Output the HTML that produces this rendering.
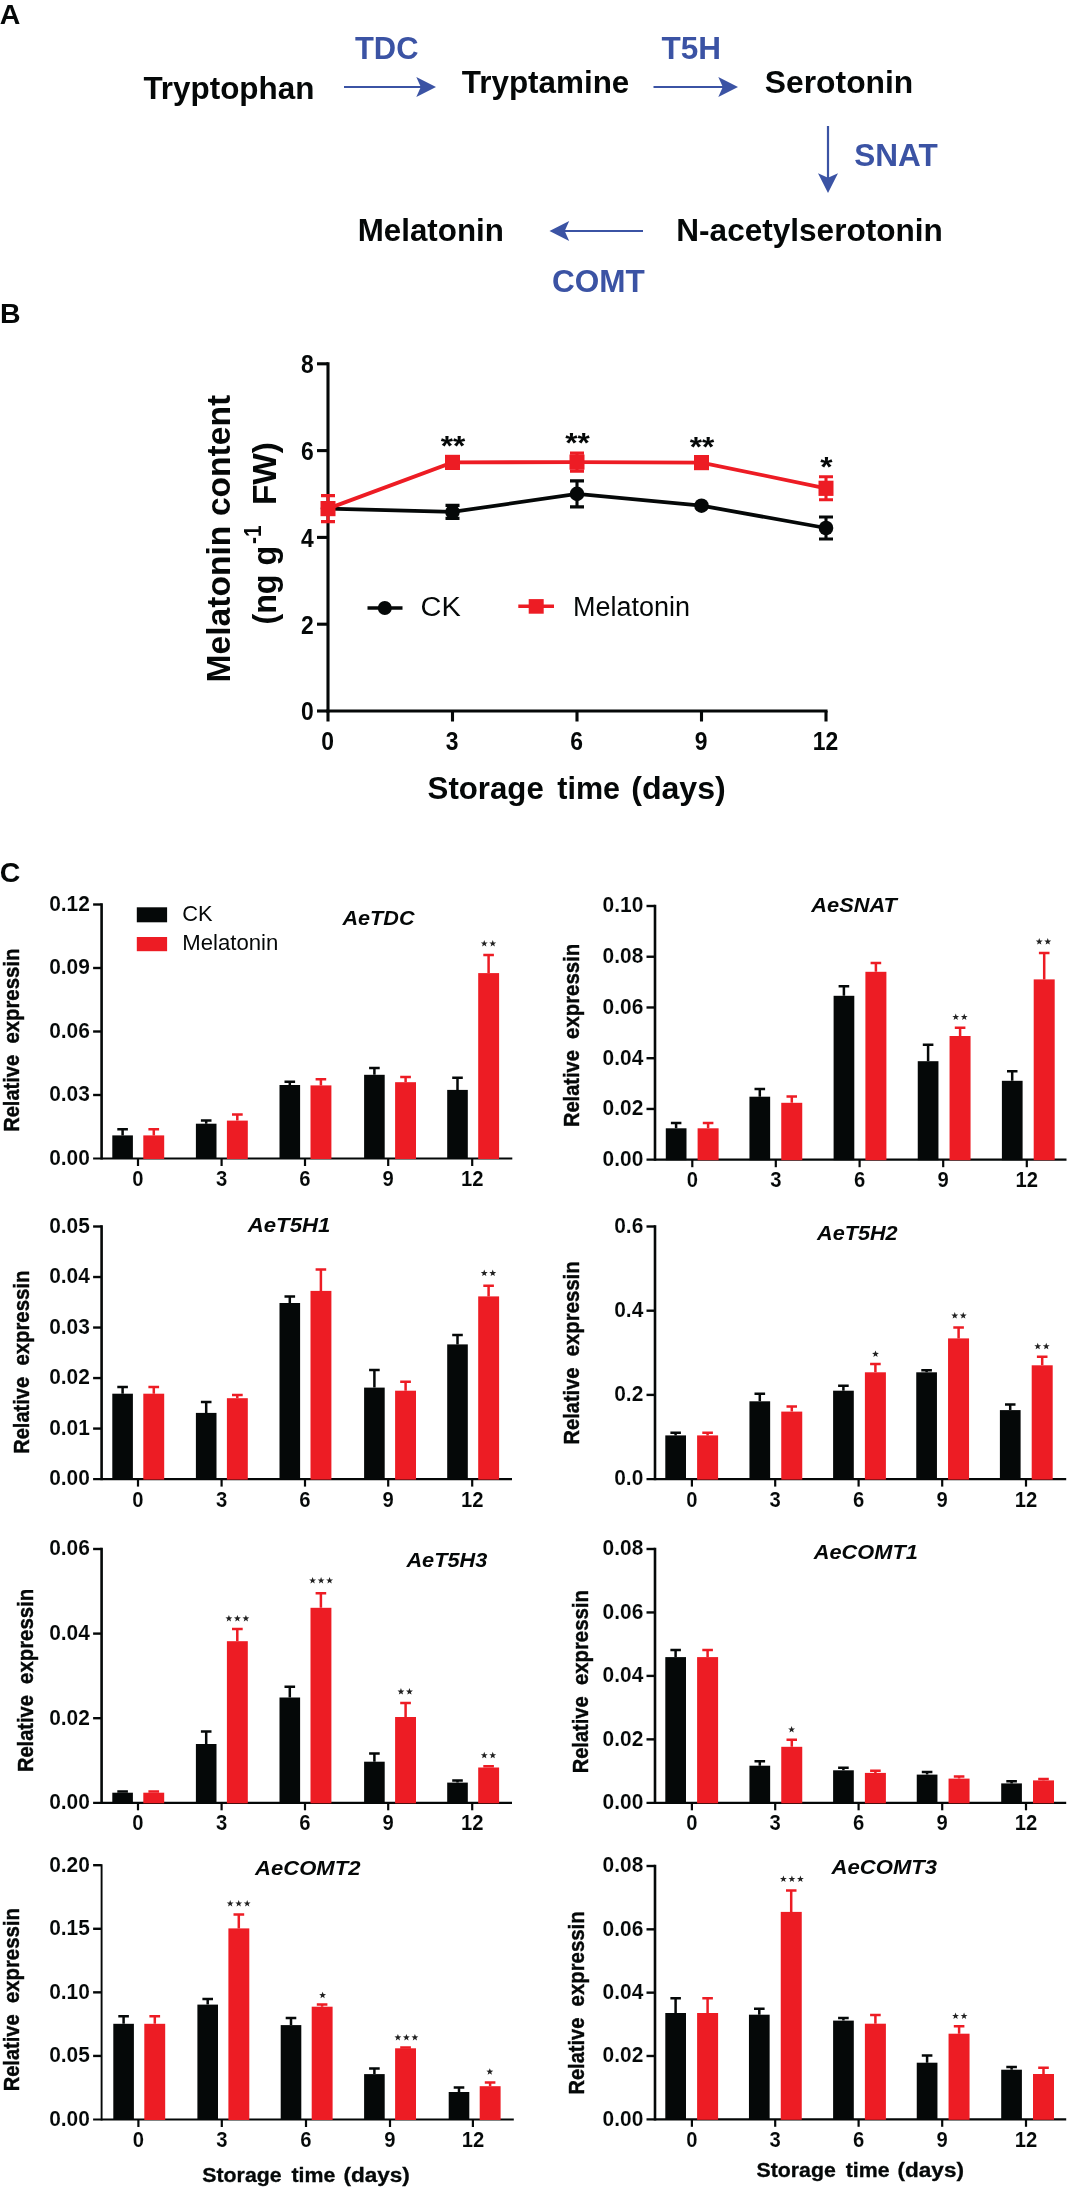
<!DOCTYPE html>
<html><head><meta charset="utf-8"><title>Figure</title>
<style>
html,body{margin:0;padding:0;background:#fff;}
body{width:1069px;height:2187px;overflow:hidden;font-family:"Liberation Sans",sans-serif;}
svg{display:block;filter:blur(0.45px);}
</style></head><body>
<svg width="1069" height="2187" viewBox="0 0 1069 2187">
<rect width="1069" height="2187" fill="#fff"/>
<text x="-0.20" y="24.00" font-family='"Liberation Sans", sans-serif' font-size="28.5" font-weight="bold" fill="#050808" text-anchor="start">A</text>
<text x="0.00" y="322.80" font-family='"Liberation Sans", sans-serif' font-size="28.5" font-weight="bold" fill="#050808" text-anchor="start">B</text>
<text x="-0.20" y="882.10" font-family='"Liberation Sans", sans-serif' font-size="28.5" font-weight="bold" fill="#050808" text-anchor="start">C</text>
<text x="143.40" y="98.80" font-family='"Liberation Sans", sans-serif' font-size="31.5" font-weight="bold" fill="#050808" text-anchor="start" textLength="171.00" lengthAdjust="spacingAndGlyphs">Tryptophan</text>
<text x="461.80" y="93.00" font-family='"Liberation Sans", sans-serif' font-size="31.5" font-weight="bold" fill="#050808" text-anchor="start" textLength="167.50" lengthAdjust="spacingAndGlyphs">Tryptamine</text>
<text x="764.80" y="93.00" font-family='"Liberation Sans", sans-serif' font-size="31.5" font-weight="bold" fill="#050808" text-anchor="start" textLength="148.50" lengthAdjust="spacingAndGlyphs">Serotonin</text>
<text x="676.30" y="240.90" font-family='"Liberation Sans", sans-serif' font-size="31.5" font-weight="bold" fill="#050808" text-anchor="start" textLength="266.50" lengthAdjust="spacingAndGlyphs">N-acetylserotonin</text>
<text x="357.70" y="240.90" font-family='"Liberation Sans", sans-serif' font-size="31.5" font-weight="bold" fill="#050808" text-anchor="start" textLength="146.20" lengthAdjust="spacingAndGlyphs">Melatonin</text>
<text x="355.00" y="59.20" font-family='"Liberation Sans", sans-serif' font-size="31.5" font-weight="bold" fill="#3b53a4" text-anchor="start" textLength="63.50" lengthAdjust="spacingAndGlyphs">TDC</text>
<text x="661.50" y="59.20" font-family='"Liberation Sans", sans-serif' font-size="31.5" font-weight="bold" fill="#3b53a4" text-anchor="start" textLength="59.50" lengthAdjust="spacingAndGlyphs">T5H</text>
<text x="854.20" y="166.30" font-family='"Liberation Sans", sans-serif' font-size="31.5" font-weight="bold" fill="#3b53a4" text-anchor="start" textLength="83.50" lengthAdjust="spacingAndGlyphs">SNAT</text>
<text x="552.00" y="291.50" font-family='"Liberation Sans", sans-serif' font-size="31.5" font-weight="bold" fill="#3b53a4" text-anchor="start" textLength="92.80" lengthAdjust="spacingAndGlyphs">COMT</text>
<line x1="344" y1="87" x2="422" y2="87" stroke="#3b53a4" stroke-width="2.2"/>
<path d="M436,87 L416.3,77 L420.8,87 L416.3,97 Z" fill="#3b53a4"/>
<line x1="653.5" y1="87" x2="724" y2="87" stroke="#3b53a4" stroke-width="2.2"/>
<path d="M738,87 L718.3,77 L722.8,87 L718.3,97 Z" fill="#3b53a4"/>
<line x1="828" y1="126" x2="828" y2="179" stroke="#3b53a4" stroke-width="2.2"/>
<path d="M828,193 L818,173.3 L828,177.8 L838,173.3 Z" fill="#3b53a4"/>
<line x1="643" y1="231" x2="563.5" y2="231" stroke="#3b53a4" stroke-width="2.2"/>
<path d="M549.5,231 L569.2,221 L564.7,231 L569.2,241 Z" fill="#3b53a4"/>
<line x1="328" y1="362.25" x2="328" y2="712.55" stroke="#050808" stroke-width="3.1"/>
<line x1="326.45" y1="711" x2="827.55" y2="711" stroke="#050808" stroke-width="3.1"/>
<line x1="317" y1="711.0" x2="328" y2="711.0" stroke="#050808" stroke-width="3.1"/>
<text transform="translate(313.60,720.30) scale(0.88,1)" font-family='"Liberation Sans", sans-serif' font-size="26" font-weight="bold" fill="#050808" text-anchor="end">0</text>
<line x1="317" y1="624.2" x2="328" y2="624.2" stroke="#050808" stroke-width="3.1"/>
<text transform="translate(313.60,633.50) scale(0.88,1)" font-family='"Liberation Sans", sans-serif' font-size="26" font-weight="bold" fill="#050808" text-anchor="end">2</text>
<line x1="317" y1="537.4" x2="328" y2="537.4" stroke="#050808" stroke-width="3.1"/>
<text transform="translate(313.60,546.70) scale(0.88,1)" font-family='"Liberation Sans", sans-serif' font-size="26" font-weight="bold" fill="#050808" text-anchor="end">4</text>
<line x1="317" y1="450.6" x2="328" y2="450.6" stroke="#050808" stroke-width="3.1"/>
<text transform="translate(313.60,459.90) scale(0.88,1)" font-family='"Liberation Sans", sans-serif' font-size="26" font-weight="bold" fill="#050808" text-anchor="end">6</text>
<line x1="317" y1="363.8" x2="328" y2="363.8" stroke="#050808" stroke-width="3.1"/>
<text transform="translate(313.60,373.10) scale(0.88,1)" font-family='"Liberation Sans", sans-serif' font-size="26" font-weight="bold" fill="#050808" text-anchor="end">8</text>
<line x1="328.0" y1="711" x2="328.0" y2="721.5" stroke="#050808" stroke-width="3.1"/>
<text transform="translate(327.50,750.20) scale(0.88,1)" font-family='"Liberation Sans", sans-serif' font-size="26" font-weight="bold" fill="#050808" text-anchor="middle">0</text>
<line x1="452.5" y1="711" x2="452.5" y2="721.5" stroke="#050808" stroke-width="3.1"/>
<text transform="translate(452.00,750.20) scale(0.88,1)" font-family='"Liberation Sans", sans-serif' font-size="26" font-weight="bold" fill="#050808" text-anchor="middle">3</text>
<line x1="577.0" y1="711" x2="577.0" y2="721.5" stroke="#050808" stroke-width="3.1"/>
<text transform="translate(576.50,750.20) scale(0.88,1)" font-family='"Liberation Sans", sans-serif' font-size="26" font-weight="bold" fill="#050808" text-anchor="middle">6</text>
<line x1="701.5" y1="711" x2="701.5" y2="721.5" stroke="#050808" stroke-width="3.1"/>
<text transform="translate(701.00,750.20) scale(0.88,1)" font-family='"Liberation Sans", sans-serif' font-size="26" font-weight="bold" fill="#050808" text-anchor="middle">9</text>
<line x1="826.0" y1="711" x2="826.0" y2="721.5" stroke="#050808" stroke-width="3.1"/>
<text transform="translate(825.50,750.20) scale(0.88,1)" font-family='"Liberation Sans", sans-serif' font-size="26" font-weight="bold" fill="#050808" text-anchor="middle">12</text>
<text x="427.60" y="798.60" font-family='"Liberation Sans", sans-serif' font-size="32" font-weight="bold" fill="#050808" text-anchor="start" textLength="116.20" lengthAdjust="spacingAndGlyphs">Storage</text>
<text x="557.30" y="798.60" font-family='"Liberation Sans", sans-serif' font-size="32" font-weight="bold" fill="#050808" text-anchor="start" textLength="62.80" lengthAdjust="spacingAndGlyphs">time</text>
<text x="631.20" y="798.60" font-family='"Liberation Sans", sans-serif' font-size="32" font-weight="bold" fill="#050808" text-anchor="start" textLength="94.60" lengthAdjust="spacingAndGlyphs">(days)</text>
<g transform="translate(229.6,682.4) rotate(-90)">
<text x="0.00" y="0.00" font-family='"Liberation Sans", sans-serif' font-size="33.6" font-weight="bold" fill="#050808" text-anchor="start">Melatonin</text>
<text x="166.30" y="0.00" font-family='"Liberation Sans", sans-serif' font-size="33.6" font-weight="bold" fill="#050808" text-anchor="start">content</text>
</g>
<g transform="translate(275.6,624.6) rotate(-90)">
<text x="0.00" y="0.00" font-family='"Liberation Sans", sans-serif' font-size="33" font-weight="bold" fill="#050808" text-anchor="start" textLength="78.80" lengthAdjust="spacingAndGlyphs">(ng g</text>
<text transform="translate(80.50,-14.40) scale(0.86,1)" font-family='"Liberation Sans", sans-serif' font-size="24.5" font-weight="bold" fill="#050808" text-anchor="start">-1</text>
<text x="119.50" y="0.00" font-family='"Liberation Sans", sans-serif' font-size="33" font-weight="bold" fill="#050808" text-anchor="start" textLength="63.00" lengthAdjust="spacingAndGlyphs">FW)</text>
</g>
<polyline points="328.0,508.6 452.5,511.9 577.0,493.9 701.5,505.7 826.0,528" fill="none" stroke="#050808" stroke-width="3.8"/>
<circle cx="328.0" cy="508.6" r="7.3" fill="#050808"/>
<path d="M452.5,505.4 V518.4 M445.5,505.4 H459.5 M445.5,518.4 H459.5" stroke="#050808" stroke-width="3.1" fill="none"/>
<circle cx="452.5" cy="511.9" r="7.3" fill="#050808"/>
<path d="M577.0,480.9 V506.9 M570.0,480.9 H584.0 M570.0,506.9 H584.0" stroke="#050808" stroke-width="3.1" fill="none"/>
<circle cx="577.0" cy="493.9" r="7.3" fill="#050808"/>
<circle cx="701.5" cy="505.7" r="7.3" fill="#050808"/>
<path d="M826.0,517 V539 M819.0,517 H833.0 M819.0,539 H833.0" stroke="#050808" stroke-width="3.1" fill="none"/>
<circle cx="826.0" cy="528" r="7.3" fill="#050808"/>
<polyline points="328.0,508.6 452.5,462.4 577.0,462.1 701.5,462.6 826.0,488.3" fill="none" stroke="#ed1c24" stroke-width="3.8"/>
<path d="M328.0,495.6 V521.6 M321.0,495.6 H335.0 M321.0,521.6 H335.0" stroke="#ed1c24" stroke-width="3.1" fill="none"/>
<rect x="320.5" y="501.0" width="15" height="15.2" fill="#ed1c24"/>
<rect x="445.0" y="454.79999999999995" width="15" height="15.2" fill="#ed1c24"/>
<path d="M577.0,453.1 V471.1 M570.0,453.1 H584.0 M570.0,471.1 H584.0" stroke="#ed1c24" stroke-width="3.1" fill="none"/>
<rect x="569.5" y="454.5" width="15" height="15.2" fill="#ed1c24"/>
<rect x="694.0" y="455.0" width="15" height="15.2" fill="#ed1c24"/>
<path d="M826.0,476.8 V499.8 M819.0,476.8 H833.0 M819.0,499.8 H833.0" stroke="#ed1c24" stroke-width="3.1" fill="none"/>
<rect x="818.5" y="480.7" width="15" height="15.2" fill="#ed1c24"/>
<text transform="translate(453.00,455.20) scale(1.17,1)" font-family='"Liberation Sans", sans-serif' font-size="27" font-weight="bold" fill="#050808" text-anchor="middle">**</text>
<text transform="translate(577.50,451.50) scale(1.17,1)" font-family='"Liberation Sans", sans-serif' font-size="27" font-weight="bold" fill="#050808" text-anchor="middle">**</text>
<text transform="translate(702.00,455.80) scale(1.17,1)" font-family='"Liberation Sans", sans-serif' font-size="27" font-weight="bold" fill="#050808" text-anchor="middle">**</text>
<text transform="translate(826.50,475.80) scale(1.17,1)" font-family='"Liberation Sans", sans-serif' font-size="27" font-weight="bold" fill="#050808" text-anchor="middle">*</text>
<line x1="367.5" y1="608" x2="402.5" y2="608" stroke="#050808" stroke-width="3.4"/><circle cx="384.8" cy="608" r="7" fill="#050808"/>
<text x="420.60" y="616.20" font-family='"Liberation Sans", sans-serif' font-size="27" font-weight="normal" fill="#050808" text-anchor="start" textLength="40.20" lengthAdjust="spacingAndGlyphs">CK</text>
<line x1="518.3" y1="606.3" x2="554" y2="606.3" stroke="#ed1c24" stroke-width="3.4"/><rect x="528.7" y="599.1" width="15" height="14.6" fill="#ed1c24"/>
<text x="573.00" y="615.50" font-family='"Liberation Sans", sans-serif' font-size="27" font-weight="normal" fill="#050808" text-anchor="start">Melatonin</text>
<line x1="101.6" y1="903.2" x2="101.6" y2="1159.6" stroke="#050808" stroke-width="2.6"/>
<line x1="93.1" y1="1158.5" x2="512.3" y2="1158.5" stroke="#050808" stroke-width="2.2"/>
<text transform="translate(89.90,1164.80) scale(0.965,1)" font-family='"Liberation Sans", sans-serif' font-size="21.7" font-weight="bold" fill="#050808" text-anchor="end" stroke="#fff" stroke-width="0.1">0.00</text>
<line x1="93.1" y1="1095.00" x2="101.6" y2="1095.00" stroke="#050808" stroke-width="2.4"/>
<text transform="translate(89.90,1101.30) scale(0.965,1)" font-family='"Liberation Sans", sans-serif' font-size="21.7" font-weight="bold" fill="#050808" text-anchor="end" stroke="#fff" stroke-width="0.1">0.03</text>
<line x1="93.1" y1="1031.50" x2="101.6" y2="1031.50" stroke="#050808" stroke-width="2.4"/>
<text transform="translate(89.90,1037.80) scale(0.965,1)" font-family='"Liberation Sans", sans-serif' font-size="21.7" font-weight="bold" fill="#050808" text-anchor="end" stroke="#fff" stroke-width="0.1">0.06</text>
<line x1="93.1" y1="968.00" x2="101.6" y2="968.00" stroke="#050808" stroke-width="2.4"/>
<text transform="translate(89.90,974.30) scale(0.965,1)" font-family='"Liberation Sans", sans-serif' font-size="21.7" font-weight="bold" fill="#050808" text-anchor="end" stroke="#fff" stroke-width="0.1">0.09</text>
<line x1="93.1" y1="904.50" x2="101.6" y2="904.50" stroke="#050808" stroke-width="2.4"/>
<text transform="translate(89.90,910.80) scale(0.965,1)" font-family='"Liberation Sans", sans-serif' font-size="21.7" font-weight="bold" fill="#050808" text-anchor="end" stroke="#fff" stroke-width="0.1">0.12</text>
<line x1="138" y1="1158.5" x2="138" y2="1166.0" stroke="#050808" stroke-width="2.2"/>
<text transform="translate(138.00,1185.80) scale(0.9,1)" font-family='"Liberation Sans", sans-serif' font-size="22.5" font-weight="bold" fill="#050808" text-anchor="middle" stroke="#fff" stroke-width="0.1">0</text>
<line x1="221.6" y1="1158.5" x2="221.6" y2="1166.0" stroke="#050808" stroke-width="2.2"/>
<text transform="translate(221.60,1185.80) scale(0.9,1)" font-family='"Liberation Sans", sans-serif' font-size="22.5" font-weight="bold" fill="#050808" text-anchor="middle" stroke="#fff" stroke-width="0.1">3</text>
<line x1="305" y1="1158.5" x2="305" y2="1166.0" stroke="#050808" stroke-width="2.2"/>
<text transform="translate(305.00,1185.80) scale(0.9,1)" font-family='"Liberation Sans", sans-serif' font-size="22.5" font-weight="bold" fill="#050808" text-anchor="middle" stroke="#fff" stroke-width="0.1">6</text>
<line x1="388.2" y1="1158.5" x2="388.2" y2="1166.0" stroke="#050808" stroke-width="2.2"/>
<text transform="translate(388.20,1185.80) scale(0.9,1)" font-family='"Liberation Sans", sans-serif' font-size="22.5" font-weight="bold" fill="#050808" text-anchor="middle" stroke="#fff" stroke-width="0.1">9</text>
<line x1="472.2" y1="1158.5" x2="472.2" y2="1166.0" stroke="#050808" stroke-width="2.2"/>
<text transform="translate(472.20,1185.80) scale(0.9,1)" font-family='"Liberation Sans", sans-serif' font-size="22.5" font-weight="bold" fill="#050808" text-anchor="middle" stroke="#fff" stroke-width="0.1">12</text>
<path d="M122.6,1135.4 V1129.2 M117.3,1129.2 H127.9" stroke="#050808" stroke-width="2.5" fill="none"/>
<rect x="112.3" y="1135.4" width="20.6" height="23.6" fill="#050808"/>
<path d="M153.8,1135.4 V1129.2 M148.4,1129.2 H159.1" stroke="#ed1c24" stroke-width="2.5" fill="none"/>
<rect x="143.3" y="1135.4" width="20.9" height="23.6" fill="#ed1c24"/>
<path d="M206.2,1123.7 V1120.5 M200.9,1120.5 H211.5" stroke="#050808" stroke-width="2.5" fill="none"/>
<rect x="195.89999999999998" y="1123.7" width="20.6" height="35.3" fill="#050808"/>
<path d="M237.3,1120.6 V1114.5 M232.0,1114.5 H242.7" stroke="#ed1c24" stroke-width="2.5" fill="none"/>
<rect x="226.9" y="1120.6" width="20.9" height="38.4" fill="#ed1c24"/>
<path d="M289.8,1085 V1081.8 M284.5,1081.8 H295.1" stroke="#050808" stroke-width="2.5" fill="none"/>
<rect x="279.5" y="1085" width="20.6" height="74.0" fill="#050808"/>
<path d="M320.9,1085.4 V1079.3 M315.6,1079.3 H326.2" stroke="#ed1c24" stroke-width="2.5" fill="none"/>
<rect x="310.5" y="1085.4" width="20.9" height="73.6" fill="#ed1c24"/>
<path d="M374.4,1074.8 V1068.1 M369.1,1068.1 H379.7" stroke="#050808" stroke-width="2.5" fill="none"/>
<rect x="364.09999999999997" y="1074.8" width="20.6" height="84.2" fill="#050808"/>
<path d="M405.6,1082.2 V1077.1 M400.2,1077.1 H410.9" stroke="#ed1c24" stroke-width="2.5" fill="none"/>
<rect x="395.1" y="1082.2" width="20.9" height="76.8" fill="#ed1c24"/>
<path d="M457.5,1089.9 V1077.7 M452.2,1077.7 H462.8" stroke="#050808" stroke-width="2.5" fill="none"/>
<rect x="447.2" y="1089.9" width="20.6" height="69.1" fill="#050808"/>
<path d="M488.6,973.1 V955.1 M483.3,955.1 H493.9" stroke="#ed1c24" stroke-width="2.5" fill="none"/>
<rect x="478.2" y="973.1" width="20.9" height="185.9" fill="#ed1c24"/>
<text x="342.50" y="924.70" font-family='"Liberation Sans", sans-serif' font-size="20.5" font-weight="bold" fill="#050808" text-anchor="start" font-style="italic" textLength="72.00" lengthAdjust="spacingAndGlyphs">AeTDC</text>
<g transform="translate(19.099999999999998,1131) rotate(-90)">
<text x="-0.80" y="0.00" font-family='"Liberation Sans", sans-serif' font-size="22.8" font-weight="bold" fill="#050808" text-anchor="start" textLength="77.00" lengthAdjust="spacingAndGlyphs" stroke="#050808" stroke-width="0.42">Relative</text>
<text x="87.40" y="0.00" font-family='"Liberation Sans", sans-serif' font-size="22.8" font-weight="bold" fill="#050808" text-anchor="start" textLength="95.00" lengthAdjust="spacingAndGlyphs" stroke="#050808" stroke-width="0.42">expressin</text>
</g>
<polygon points="484.25,940.00 485.14,942.38 487.67,942.49 485.69,944.07 486.37,946.51 484.25,945.11 482.13,946.51 482.81,944.07 480.83,942.49 483.36,942.38" fill="#222"/>
<polygon points="492.75,940.00 493.64,942.38 496.17,942.49 494.19,944.07 494.87,946.51 492.75,945.11 490.63,946.51 491.31,944.07 489.33,942.49 491.86,942.38" fill="#222"/>
<rect x="136.8" y="907.3" width="30.3" height="15" fill="#050808"/>
<rect x="136.8" y="937" width="30.3" height="14.2" fill="#ed1c24"/>
<text x="182.30" y="921.20" font-family='"Liberation Sans", sans-serif' font-size="21.5" font-weight="normal" fill="#050808" text-anchor="start" textLength="30.30" lengthAdjust="spacingAndGlyphs">CK</text>
<text x="182.30" y="949.80" font-family='"Liberation Sans", sans-serif' font-size="22" font-weight="normal" fill="#050808" text-anchor="start" textLength="96.00" lengthAdjust="spacingAndGlyphs">Melatonin</text>
<line x1="655" y1="904.7" x2="655" y2="1160.8" stroke="#050808" stroke-width="2.6"/>
<line x1="646.5" y1="1159.7" x2="1066.5" y2="1159.7" stroke="#050808" stroke-width="2.2"/>
<text transform="translate(643.30,1166.00) scale(0.965,1)" font-family='"Liberation Sans", sans-serif' font-size="21.7" font-weight="bold" fill="#050808" text-anchor="end" stroke="#fff" stroke-width="0.1">0.00</text>
<line x1="646.5" y1="1108.96" x2="655" y2="1108.96" stroke="#050808" stroke-width="2.4"/>
<text transform="translate(643.30,1115.26) scale(0.965,1)" font-family='"Liberation Sans", sans-serif' font-size="21.7" font-weight="bold" fill="#050808" text-anchor="end" stroke="#fff" stroke-width="0.1">0.02</text>
<line x1="646.5" y1="1058.22" x2="655" y2="1058.22" stroke="#050808" stroke-width="2.4"/>
<text transform="translate(643.30,1064.52) scale(0.965,1)" font-family='"Liberation Sans", sans-serif' font-size="21.7" font-weight="bold" fill="#050808" text-anchor="end" stroke="#fff" stroke-width="0.1">0.04</text>
<line x1="646.5" y1="1007.48" x2="655" y2="1007.48" stroke="#050808" stroke-width="2.4"/>
<text transform="translate(643.30,1013.78) scale(0.965,1)" font-family='"Liberation Sans", sans-serif' font-size="21.7" font-weight="bold" fill="#050808" text-anchor="end" stroke="#fff" stroke-width="0.1">0.06</text>
<line x1="646.5" y1="956.74" x2="655" y2="956.74" stroke="#050808" stroke-width="2.4"/>
<text transform="translate(643.30,963.04) scale(0.965,1)" font-family='"Liberation Sans", sans-serif' font-size="21.7" font-weight="bold" fill="#050808" text-anchor="end" stroke="#fff" stroke-width="0.1">0.08</text>
<line x1="646.5" y1="906.00" x2="655" y2="906.00" stroke="#050808" stroke-width="2.4"/>
<text transform="translate(643.30,912.30) scale(0.965,1)" font-family='"Liberation Sans", sans-serif' font-size="21.7" font-weight="bold" fill="#050808" text-anchor="end" stroke="#fff" stroke-width="0.1">0.10</text>
<line x1="692.3" y1="1159.7" x2="692.3" y2="1167.2" stroke="#050808" stroke-width="2.2"/>
<text transform="translate(692.30,1186.90) scale(0.9,1)" font-family='"Liberation Sans", sans-serif' font-size="22.5" font-weight="bold" fill="#050808" text-anchor="middle" stroke="#fff" stroke-width="0.1">0</text>
<line x1="775.8" y1="1159.7" x2="775.8" y2="1167.2" stroke="#050808" stroke-width="2.2"/>
<text transform="translate(775.80,1186.90) scale(0.9,1)" font-family='"Liberation Sans", sans-serif' font-size="22.5" font-weight="bold" fill="#050808" text-anchor="middle" stroke="#fff" stroke-width="0.1">3</text>
<line x1="859.6" y1="1159.7" x2="859.6" y2="1167.2" stroke="#050808" stroke-width="2.2"/>
<text transform="translate(859.60,1186.90) scale(0.9,1)" font-family='"Liberation Sans", sans-serif' font-size="22.5" font-weight="bold" fill="#050808" text-anchor="middle" stroke="#fff" stroke-width="0.1">6</text>
<line x1="943.2" y1="1159.7" x2="943.2" y2="1167.2" stroke="#050808" stroke-width="2.2"/>
<text transform="translate(943.20,1186.90) scale(0.9,1)" font-family='"Liberation Sans", sans-serif' font-size="22.5" font-weight="bold" fill="#050808" text-anchor="middle" stroke="#fff" stroke-width="0.1">9</text>
<line x1="1026.8" y1="1159.7" x2="1026.8" y2="1167.2" stroke="#050808" stroke-width="2.2"/>
<text transform="translate(1026.80,1186.90) scale(0.9,1)" font-family='"Liberation Sans", sans-serif' font-size="22.5" font-weight="bold" fill="#050808" text-anchor="middle" stroke="#fff" stroke-width="0.1">12</text>
<path d="M676.1,1128.3 V1123 M670.9,1123 H681.4" stroke="#050808" stroke-width="2.5" fill="none"/>
<rect x="665.8" y="1128.3" width="20.7" height="31.9" fill="#050808"/>
<path d="M708.1,1128.3 V1123 M702.8,1123 H713.4" stroke="#ed1c24" stroke-width="2.5" fill="none"/>
<rect x="697.6" y="1128.3" width="21.0" height="31.9" fill="#ed1c24"/>
<path d="M759.8,1096.7 V1089.1 M754.5,1089.1 H765.1" stroke="#050808" stroke-width="2.5" fill="none"/>
<rect x="749.4499999999999" y="1096.7" width="20.7" height="63.5" fill="#050808"/>
<path d="M791.8,1102.8 V1096.5 M786.5,1096.5 H797.0" stroke="#ed1c24" stroke-width="2.5" fill="none"/>
<rect x="781.25" y="1102.8" width="21.0" height="57.4" fill="#ed1c24"/>
<path d="M843.9,995.8 V986.2 M838.6,986.2 H849.2" stroke="#050808" stroke-width="2.5" fill="none"/>
<rect x="833.5999999999999" y="995.8" width="20.7" height="164.4" fill="#050808"/>
<path d="M875.9,971.8 V963 M870.6,963 H881.2" stroke="#ed1c24" stroke-width="2.5" fill="none"/>
<rect x="865.4000000000001" y="971.8" width="21.0" height="188.4" fill="#ed1c24"/>
<path d="M928.1,1061.2 V1044.8 M922.8,1044.8 H933.4" stroke="#050808" stroke-width="2.5" fill="none"/>
<rect x="917.75" y="1061.2" width="20.7" height="99.0" fill="#050808"/>
<path d="M960.1,1036 V1027.7 M954.8,1027.7 H965.4" stroke="#ed1c24" stroke-width="2.5" fill="none"/>
<rect x="949.5500000000001" y="1036" width="21.0" height="124.2" fill="#ed1c24"/>
<path d="M1012.2,1080.8 V1071.2 M1007.0,1071.2 H1017.5" stroke="#050808" stroke-width="2.5" fill="none"/>
<rect x="1001.9" y="1080.8" width="20.7" height="79.4" fill="#050808"/>
<path d="M1044.2,979.4 V953 M1038.9,953 H1049.5" stroke="#ed1c24" stroke-width="2.5" fill="none"/>
<rect x="1033.7" y="979.4" width="21.0" height="180.8" fill="#ed1c24"/>
<text x="811.30" y="912.20" font-family='"Liberation Sans", sans-serif' font-size="20.5" font-weight="bold" fill="#050808" text-anchor="start" font-style="italic" textLength="85.60" lengthAdjust="spacingAndGlyphs">AeSNAT</text>
<g transform="translate(578.6999999999999,1126.3) rotate(-90)">
<text x="-0.80" y="0.00" font-family='"Liberation Sans", sans-serif' font-size="22.8" font-weight="bold" fill="#050808" text-anchor="start" textLength="77.00" lengthAdjust="spacingAndGlyphs" stroke="#050808" stroke-width="0.42">Relative</text>
<text x="87.40" y="0.00" font-family='"Liberation Sans", sans-serif' font-size="22.8" font-weight="bold" fill="#050808" text-anchor="start" textLength="95.00" lengthAdjust="spacingAndGlyphs" stroke="#050808" stroke-width="0.42">expressin</text>
</g>
<polygon points="955.75,1013.50 956.64,1015.88 959.17,1015.99 957.19,1017.57 957.87,1020.01 955.75,1018.61 953.63,1020.01 954.31,1017.57 952.33,1015.99 954.86,1015.88" fill="#222"/>
<polygon points="964.25,1013.50 965.14,1015.88 967.67,1015.99 965.69,1017.57 966.37,1020.01 964.25,1018.61 962.13,1020.01 962.81,1017.57 960.83,1015.99 963.36,1015.88" fill="#222"/>
<polygon points="1039.25,938.10 1040.14,940.48 1042.67,940.59 1040.69,942.17 1041.37,944.61 1039.25,943.21 1037.13,944.61 1037.81,942.17 1035.83,940.59 1038.36,940.48" fill="#222"/>
<polygon points="1047.75,938.10 1048.64,940.48 1051.17,940.59 1049.19,942.17 1049.87,944.61 1047.75,943.21 1045.63,944.61 1046.31,942.17 1044.33,940.59 1046.86,940.48" fill="#222"/>
<line x1="101.6" y1="1225.2" x2="101.6" y2="1480.1999999999998" stroke="#050808" stroke-width="2.6"/>
<line x1="93.1" y1="1479.1" x2="512" y2="1479.1" stroke="#050808" stroke-width="2.2"/>
<text transform="translate(89.90,1485.40) scale(0.965,1)" font-family='"Liberation Sans", sans-serif' font-size="21.7" font-weight="bold" fill="#050808" text-anchor="end" stroke="#fff" stroke-width="0.1">0.00</text>
<line x1="93.1" y1="1428.58" x2="101.6" y2="1428.58" stroke="#050808" stroke-width="2.4"/>
<text transform="translate(89.90,1434.88) scale(0.965,1)" font-family='"Liberation Sans", sans-serif' font-size="21.7" font-weight="bold" fill="#050808" text-anchor="end" stroke="#fff" stroke-width="0.1">0.01</text>
<line x1="93.1" y1="1378.06" x2="101.6" y2="1378.06" stroke="#050808" stroke-width="2.4"/>
<text transform="translate(89.90,1384.36) scale(0.965,1)" font-family='"Liberation Sans", sans-serif' font-size="21.7" font-weight="bold" fill="#050808" text-anchor="end" stroke="#fff" stroke-width="0.1">0.02</text>
<line x1="93.1" y1="1327.54" x2="101.6" y2="1327.54" stroke="#050808" stroke-width="2.4"/>
<text transform="translate(89.90,1333.84) scale(0.965,1)" font-family='"Liberation Sans", sans-serif' font-size="21.7" font-weight="bold" fill="#050808" text-anchor="end" stroke="#fff" stroke-width="0.1">0.03</text>
<line x1="93.1" y1="1277.02" x2="101.6" y2="1277.02" stroke="#050808" stroke-width="2.4"/>
<text transform="translate(89.90,1283.32) scale(0.965,1)" font-family='"Liberation Sans", sans-serif' font-size="21.7" font-weight="bold" fill="#050808" text-anchor="end" stroke="#fff" stroke-width="0.1">0.04</text>
<line x1="93.1" y1="1226.50" x2="101.6" y2="1226.50" stroke="#050808" stroke-width="2.4"/>
<text transform="translate(89.90,1232.80) scale(0.965,1)" font-family='"Liberation Sans", sans-serif' font-size="21.7" font-weight="bold" fill="#050808" text-anchor="end" stroke="#fff" stroke-width="0.1">0.05</text>
<line x1="138" y1="1479.1" x2="138" y2="1486.6" stroke="#050808" stroke-width="2.2"/>
<text transform="translate(138.00,1506.80) scale(0.9,1)" font-family='"Liberation Sans", sans-serif' font-size="22.5" font-weight="bold" fill="#050808" text-anchor="middle" stroke="#fff" stroke-width="0.1">0</text>
<line x1="221.6" y1="1479.1" x2="221.6" y2="1486.6" stroke="#050808" stroke-width="2.2"/>
<text transform="translate(221.60,1506.80) scale(0.9,1)" font-family='"Liberation Sans", sans-serif' font-size="22.5" font-weight="bold" fill="#050808" text-anchor="middle" stroke="#fff" stroke-width="0.1">3</text>
<line x1="305" y1="1479.1" x2="305" y2="1486.6" stroke="#050808" stroke-width="2.2"/>
<text transform="translate(305.00,1506.80) scale(0.9,1)" font-family='"Liberation Sans", sans-serif' font-size="22.5" font-weight="bold" fill="#050808" text-anchor="middle" stroke="#fff" stroke-width="0.1">6</text>
<line x1="388.2" y1="1479.1" x2="388.2" y2="1486.6" stroke="#050808" stroke-width="2.2"/>
<text transform="translate(388.20,1506.80) scale(0.9,1)" font-family='"Liberation Sans", sans-serif' font-size="22.5" font-weight="bold" fill="#050808" text-anchor="middle" stroke="#fff" stroke-width="0.1">9</text>
<line x1="472.2" y1="1479.1" x2="472.2" y2="1486.6" stroke="#050808" stroke-width="2.2"/>
<text transform="translate(472.20,1506.80) scale(0.9,1)" font-family='"Liberation Sans", sans-serif' font-size="22.5" font-weight="bold" fill="#050808" text-anchor="middle" stroke="#fff" stroke-width="0.1">12</text>
<path d="M122.6,1393.7 V1386.9 M117.3,1386.9 H127.9" stroke="#050808" stroke-width="2.5" fill="none"/>
<rect x="112.3" y="1393.7" width="20.6" height="85.9" fill="#050808"/>
<path d="M153.8,1393.7 V1386.9 M148.4,1386.9 H159.1" stroke="#ed1c24" stroke-width="2.5" fill="none"/>
<rect x="143.3" y="1393.7" width="20.9" height="85.9" fill="#ed1c24"/>
<path d="M206.2,1412.9 V1402 M200.9,1402 H211.5" stroke="#050808" stroke-width="2.5" fill="none"/>
<rect x="195.89999999999998" y="1412.9" width="20.6" height="66.7" fill="#050808"/>
<path d="M237.3,1398.2 V1395 M232.0,1395 H242.7" stroke="#ed1c24" stroke-width="2.5" fill="none"/>
<rect x="226.9" y="1398.2" width="20.9" height="81.4" fill="#ed1c24"/>
<path d="M289.8,1303 V1296.4 M284.5,1296.4 H295.1" stroke="#050808" stroke-width="2.5" fill="none"/>
<rect x="279.5" y="1303" width="20.6" height="176.6" fill="#050808"/>
<path d="M320.9,1290.9 V1269.4 M315.6,1269.4 H326.2" stroke="#ed1c24" stroke-width="2.5" fill="none"/>
<rect x="310.5" y="1290.9" width="20.9" height="188.7" fill="#ed1c24"/>
<path d="M374.4,1387.6 V1369.9 M369.1,1369.9 H379.7" stroke="#050808" stroke-width="2.5" fill="none"/>
<rect x="364.09999999999997" y="1387.6" width="20.6" height="92.0" fill="#050808"/>
<path d="M405.6,1390.7 V1381.8 M400.2,1381.8 H410.9" stroke="#ed1c24" stroke-width="2.5" fill="none"/>
<rect x="395.1" y="1390.7" width="20.9" height="88.9" fill="#ed1c24"/>
<path d="M457.5,1344.4 V1335.1 M452.2,1335.1 H462.8" stroke="#050808" stroke-width="2.5" fill="none"/>
<rect x="447.2" y="1344.4" width="20.6" height="135.2" fill="#050808"/>
<path d="M488.6,1296.4 V1285.8 M483.3,1285.8 H493.9" stroke="#ed1c24" stroke-width="2.5" fill="none"/>
<rect x="478.2" y="1296.4" width="20.9" height="183.2" fill="#ed1c24"/>
<text x="247.80" y="1232.30" font-family='"Liberation Sans", sans-serif' font-size="20.5" font-weight="bold" fill="#050808" text-anchor="start" font-style="italic" textLength="82.50" lengthAdjust="spacingAndGlyphs">AeT5H1</text>
<g transform="translate(28.7,1453) rotate(-90)">
<text x="-0.80" y="0.00" font-family='"Liberation Sans", sans-serif' font-size="22.8" font-weight="bold" fill="#050808" text-anchor="start" textLength="77.00" lengthAdjust="spacingAndGlyphs" stroke="#050808" stroke-width="0.42">Relative</text>
<text x="87.40" y="0.00" font-family='"Liberation Sans", sans-serif' font-size="22.8" font-weight="bold" fill="#050808" text-anchor="start" textLength="95.00" lengthAdjust="spacingAndGlyphs" stroke="#050808" stroke-width="0.42">expressin</text>
</g>
<polygon points="484.25,1269.60 485.14,1271.98 487.67,1272.09 485.69,1273.67 486.37,1276.11 484.25,1274.71 482.13,1276.11 482.81,1273.67 480.83,1272.09 483.36,1271.98" fill="#222"/>
<polygon points="492.75,1269.60 493.64,1271.98 496.17,1272.09 494.19,1273.67 494.87,1276.11 492.75,1274.71 490.63,1276.11 491.31,1273.67 489.33,1272.09 491.86,1271.98" fill="#222"/>
<line x1="655" y1="1225.2" x2="655" y2="1480.1999999999998" stroke="#050808" stroke-width="2.6"/>
<line x1="646.5" y1="1479.1" x2="1066.2" y2="1479.1" stroke="#050808" stroke-width="2.2"/>
<text transform="translate(643.30,1485.40) scale(0.965,1)" font-family='"Liberation Sans", sans-serif' font-size="21.7" font-weight="bold" fill="#050808" text-anchor="end" stroke="#fff" stroke-width="0.1">0.0</text>
<line x1="646.5" y1="1394.90" x2="655" y2="1394.90" stroke="#050808" stroke-width="2.4"/>
<text transform="translate(643.30,1401.20) scale(0.965,1)" font-family='"Liberation Sans", sans-serif' font-size="21.7" font-weight="bold" fill="#050808" text-anchor="end" stroke="#fff" stroke-width="0.1">0.2</text>
<line x1="646.5" y1="1310.70" x2="655" y2="1310.70" stroke="#050808" stroke-width="2.4"/>
<text transform="translate(643.30,1317.00) scale(0.965,1)" font-family='"Liberation Sans", sans-serif' font-size="21.7" font-weight="bold" fill="#050808" text-anchor="end" stroke="#fff" stroke-width="0.1">0.4</text>
<line x1="646.5" y1="1226.50" x2="655" y2="1226.50" stroke="#050808" stroke-width="2.4"/>
<text transform="translate(643.30,1232.80) scale(0.965,1)" font-family='"Liberation Sans", sans-serif' font-size="21.7" font-weight="bold" fill="#050808" text-anchor="end" stroke="#fff" stroke-width="0.1">0.6</text>
<line x1="691.9" y1="1479.1" x2="691.9" y2="1486.6" stroke="#050808" stroke-width="2.2"/>
<text transform="translate(691.90,1506.80) scale(0.9,1)" font-family='"Liberation Sans", sans-serif' font-size="22.5" font-weight="bold" fill="#050808" text-anchor="middle" stroke="#fff" stroke-width="0.1">0</text>
<line x1="775.2" y1="1479.1" x2="775.2" y2="1486.6" stroke="#050808" stroke-width="2.2"/>
<text transform="translate(775.20,1506.80) scale(0.9,1)" font-family='"Liberation Sans", sans-serif' font-size="22.5" font-weight="bold" fill="#050808" text-anchor="middle" stroke="#fff" stroke-width="0.1">3</text>
<line x1="858.6" y1="1479.1" x2="858.6" y2="1486.6" stroke="#050808" stroke-width="2.2"/>
<text transform="translate(858.60,1506.80) scale(0.9,1)" font-family='"Liberation Sans", sans-serif' font-size="22.5" font-weight="bold" fill="#050808" text-anchor="middle" stroke="#fff" stroke-width="0.1">6</text>
<line x1="942.2" y1="1479.1" x2="942.2" y2="1486.6" stroke="#050808" stroke-width="2.2"/>
<text transform="translate(942.20,1506.80) scale(0.9,1)" font-family='"Liberation Sans", sans-serif' font-size="22.5" font-weight="bold" fill="#050808" text-anchor="middle" stroke="#fff" stroke-width="0.1">9</text>
<line x1="1026" y1="1479.1" x2="1026" y2="1486.6" stroke="#050808" stroke-width="2.2"/>
<text transform="translate(1026.00,1506.80) scale(0.9,1)" font-family='"Liberation Sans", sans-serif' font-size="22.5" font-weight="bold" fill="#050808" text-anchor="middle" stroke="#fff" stroke-width="0.1">12</text>
<path d="M675.6,1435.4 V1432.8 M670.4,1432.8 H680.9" stroke="#050808" stroke-width="2.5" fill="none"/>
<rect x="665.3" y="1435.4" width="20.7" height="44.2" fill="#050808"/>
<path d="M707.6,1435.4 V1432.8 M702.3,1432.8 H712.9" stroke="#ed1c24" stroke-width="2.5" fill="none"/>
<rect x="697.1" y="1435.4" width="21.0" height="44.2" fill="#ed1c24"/>
<path d="M759.8,1401.3 V1393.7 M754.5,1393.7 H765.1" stroke="#050808" stroke-width="2.5" fill="none"/>
<rect x="749.4499999999999" y="1401.3" width="20.7" height="78.3" fill="#050808"/>
<path d="M791.8,1411.6 V1406.6 M786.5,1406.6 H797.0" stroke="#ed1c24" stroke-width="2.5" fill="none"/>
<rect x="781.25" y="1411.6" width="21.0" height="68.0" fill="#ed1c24"/>
<path d="M843.4,1390.7 V1385.7 M838.1,1385.7 H848.7" stroke="#050808" stroke-width="2.5" fill="none"/>
<rect x="833.0999999999999" y="1390.7" width="20.7" height="88.9" fill="#050808"/>
<path d="M875.4,1372.3 V1364 M870.1,1364 H880.7" stroke="#ed1c24" stroke-width="2.5" fill="none"/>
<rect x="864.9000000000001" y="1372.3" width="21.0" height="107.3" fill="#ed1c24"/>
<path d="M926.6,1372.3 V1370.3 M921.3,1370.3 H931.9" stroke="#050808" stroke-width="2.5" fill="none"/>
<rect x="916.25" y="1372.3" width="20.7" height="107.3" fill="#050808"/>
<path d="M958.6,1338.4 V1327.5 M953.3,1327.5 H963.9" stroke="#ed1c24" stroke-width="2.5" fill="none"/>
<rect x="948.0500000000001" y="1338.4" width="21.0" height="141.2" fill="#ed1c24"/>
<path d="M1010.2,1410.1 V1404.5 M1005.0,1404.5 H1015.5" stroke="#050808" stroke-width="2.5" fill="none"/>
<rect x="999.9" y="1410.1" width="20.7" height="69.5" fill="#050808"/>
<path d="M1042.2,1365.3 V1356.7 M1036.9,1356.7 H1047.5" stroke="#ed1c24" stroke-width="2.5" fill="none"/>
<rect x="1031.7" y="1365.3" width="21.0" height="114.3" fill="#ed1c24"/>
<text x="817.10" y="1240.20" font-family='"Liberation Sans", sans-serif' font-size="20.5" font-weight="bold" fill="#050808" text-anchor="start" font-style="italic" textLength="80.50" lengthAdjust="spacingAndGlyphs">AeT5H2</text>
<g transform="translate(579.4,1443.7) rotate(-90)">
<text x="-0.80" y="0.00" font-family='"Liberation Sans", sans-serif' font-size="22.8" font-weight="bold" fill="#050808" text-anchor="start" textLength="77.00" lengthAdjust="spacingAndGlyphs" stroke="#050808" stroke-width="0.42">Relative</text>
<text x="87.40" y="0.00" font-family='"Liberation Sans", sans-serif' font-size="22.8" font-weight="bold" fill="#050808" text-anchor="start" textLength="95.00" lengthAdjust="spacingAndGlyphs" stroke="#050808" stroke-width="0.42">expressin</text>
</g>
<polygon points="875.50,1350.40 876.39,1352.78 878.92,1352.89 876.94,1354.47 877.62,1356.91 875.50,1355.51 873.38,1356.91 874.06,1354.47 872.08,1352.89 874.61,1352.78" fill="#222"/>
<polygon points="954.75,1312.10 955.64,1314.48 958.17,1314.59 956.19,1316.17 956.87,1318.61 954.75,1317.21 952.63,1318.61 953.31,1316.17 951.33,1314.59 953.86,1314.48" fill="#222"/>
<polygon points="963.25,1312.10 964.14,1314.48 966.67,1314.59 964.69,1316.17 965.37,1318.61 963.25,1317.21 961.13,1318.61 961.81,1316.17 959.83,1314.59 962.36,1314.48" fill="#222"/>
<polygon points="1037.75,1342.80 1038.64,1345.18 1041.17,1345.29 1039.19,1346.87 1039.87,1349.31 1037.75,1347.91 1035.63,1349.31 1036.31,1346.87 1034.33,1345.29 1036.86,1345.18" fill="#222"/>
<polygon points="1046.25,1342.80 1047.14,1345.18 1049.67,1345.29 1047.69,1346.87 1048.37,1349.31 1046.25,1347.91 1044.13,1349.31 1044.81,1346.87 1042.83,1345.29 1045.36,1345.18" fill="#222"/>
<line x1="101.6" y1="1547.7" x2="101.6" y2="1803.8999999999999" stroke="#050808" stroke-width="2.6"/>
<line x1="93.1" y1="1802.8" x2="512" y2="1802.8" stroke="#050808" stroke-width="2.2"/>
<text transform="translate(89.90,1809.10) scale(0.965,1)" font-family='"Liberation Sans", sans-serif' font-size="21.7" font-weight="bold" fill="#050808" text-anchor="end" stroke="#fff" stroke-width="0.1">0.00</text>
<line x1="93.1" y1="1718.20" x2="101.6" y2="1718.20" stroke="#050808" stroke-width="2.4"/>
<text transform="translate(89.90,1724.50) scale(0.965,1)" font-family='"Liberation Sans", sans-serif' font-size="21.7" font-weight="bold" fill="#050808" text-anchor="end" stroke="#fff" stroke-width="0.1">0.02</text>
<line x1="93.1" y1="1633.60" x2="101.6" y2="1633.60" stroke="#050808" stroke-width="2.4"/>
<text transform="translate(89.90,1639.90) scale(0.965,1)" font-family='"Liberation Sans", sans-serif' font-size="21.7" font-weight="bold" fill="#050808" text-anchor="end" stroke="#fff" stroke-width="0.1">0.04</text>
<line x1="93.1" y1="1549.00" x2="101.6" y2="1549.00" stroke="#050808" stroke-width="2.4"/>
<text transform="translate(89.90,1555.30) scale(0.965,1)" font-family='"Liberation Sans", sans-serif' font-size="21.7" font-weight="bold" fill="#050808" text-anchor="end" stroke="#fff" stroke-width="0.1">0.06</text>
<line x1="138" y1="1802.8" x2="138" y2="1810.3" stroke="#050808" stroke-width="2.2"/>
<text transform="translate(138.00,1830.00) scale(0.9,1)" font-family='"Liberation Sans", sans-serif' font-size="22.5" font-weight="bold" fill="#050808" text-anchor="middle" stroke="#fff" stroke-width="0.1">0</text>
<line x1="221.6" y1="1802.8" x2="221.6" y2="1810.3" stroke="#050808" stroke-width="2.2"/>
<text transform="translate(221.60,1830.00) scale(0.9,1)" font-family='"Liberation Sans", sans-serif' font-size="22.5" font-weight="bold" fill="#050808" text-anchor="middle" stroke="#fff" stroke-width="0.1">3</text>
<line x1="305" y1="1802.8" x2="305" y2="1810.3" stroke="#050808" stroke-width="2.2"/>
<text transform="translate(305.00,1830.00) scale(0.9,1)" font-family='"Liberation Sans", sans-serif' font-size="22.5" font-weight="bold" fill="#050808" text-anchor="middle" stroke="#fff" stroke-width="0.1">6</text>
<line x1="388.2" y1="1802.8" x2="388.2" y2="1810.3" stroke="#050808" stroke-width="2.2"/>
<text transform="translate(388.20,1830.00) scale(0.9,1)" font-family='"Liberation Sans", sans-serif' font-size="22.5" font-weight="bold" fill="#050808" text-anchor="middle" stroke="#fff" stroke-width="0.1">9</text>
<line x1="472.2" y1="1802.8" x2="472.2" y2="1810.3" stroke="#050808" stroke-width="2.2"/>
<text transform="translate(472.20,1830.00) scale(0.9,1)" font-family='"Liberation Sans", sans-serif' font-size="22.5" font-weight="bold" fill="#050808" text-anchor="middle" stroke="#fff" stroke-width="0.1">12</text>
<path d="M122.6,1792.7 V1791.5 M117.3,1791.5 H127.9" stroke="#050808" stroke-width="2.5" fill="none"/>
<rect x="112.3" y="1792.7" width="20.6" height="10.6" fill="#050808"/>
<path d="M153.8,1792.7 V1791.5 M148.4,1791.5 H159.1" stroke="#ed1c24" stroke-width="2.5" fill="none"/>
<rect x="143.3" y="1792.7" width="20.9" height="10.6" fill="#ed1c24"/>
<path d="M206.2,1744 V1731.4 M200.9,1731.4 H211.5" stroke="#050808" stroke-width="2.5" fill="none"/>
<rect x="195.89999999999998" y="1744" width="20.6" height="59.3" fill="#050808"/>
<path d="M237.3,1641.2 V1629.1 M232.0,1629.1 H242.7" stroke="#ed1c24" stroke-width="2.5" fill="none"/>
<rect x="226.9" y="1641.2" width="20.9" height="162.1" fill="#ed1c24"/>
<path d="M289.8,1697.5 V1686.7 M284.5,1686.7 H295.1" stroke="#050808" stroke-width="2.5" fill="none"/>
<rect x="279.5" y="1697.5" width="20.6" height="105.8" fill="#050808"/>
<path d="M320.9,1607.8 V1593.2 M315.6,1593.2 H326.2" stroke="#ed1c24" stroke-width="2.5" fill="none"/>
<rect x="310.5" y="1607.8" width="20.9" height="195.5" fill="#ed1c24"/>
<path d="M374.4,1761.7 V1753.6 M369.1,1753.6 H379.7" stroke="#050808" stroke-width="2.5" fill="none"/>
<rect x="364.09999999999997" y="1761.7" width="20.6" height="41.6" fill="#050808"/>
<path d="M405.6,1717 V1703.1 M400.2,1703.1 H410.9" stroke="#ed1c24" stroke-width="2.5" fill="none"/>
<rect x="395.1" y="1717" width="20.9" height="86.3" fill="#ed1c24"/>
<path d="M457.5,1782.6 V1780.6 M452.2,1780.6 H462.8" stroke="#050808" stroke-width="2.5" fill="none"/>
<rect x="447.2" y="1782.6" width="20.6" height="20.7" fill="#050808"/>
<path d="M488.6,1767.5 V1766.2 M483.3,1766.2 H493.9" stroke="#ed1c24" stroke-width="2.5" fill="none"/>
<rect x="478.2" y="1767.5" width="20.9" height="35.8" fill="#ed1c24"/>
<text x="406.40" y="1566.70" font-family='"Liberation Sans", sans-serif' font-size="20.5" font-weight="bold" fill="#050808" text-anchor="start" font-style="italic" textLength="80.90" lengthAdjust="spacingAndGlyphs">AeT5H3</text>
<g transform="translate(33.3,1771.3) rotate(-90)">
<text x="-0.80" y="0.00" font-family='"Liberation Sans", sans-serif' font-size="22.8" font-weight="bold" fill="#050808" text-anchor="start" textLength="77.00" lengthAdjust="spacingAndGlyphs" stroke="#050808" stroke-width="0.42">Relative</text>
<text x="87.40" y="0.00" font-family='"Liberation Sans", sans-serif' font-size="22.8" font-weight="bold" fill="#050808" text-anchor="start" textLength="95.00" lengthAdjust="spacingAndGlyphs" stroke="#050808" stroke-width="0.42">expressin</text>
</g>
<polygon points="228.90,1614.90 229.79,1617.28 232.32,1617.39 230.34,1618.97 231.02,1621.41 228.90,1620.01 226.78,1621.41 227.46,1618.97 225.48,1617.39 228.01,1617.28" fill="#222"/>
<polygon points="237.40,1614.90 238.29,1617.28 240.82,1617.39 238.84,1618.97 239.52,1621.41 237.40,1620.01 235.28,1621.41 235.96,1618.97 233.98,1617.39 236.51,1617.28" fill="#222"/>
<polygon points="245.90,1614.90 246.79,1617.28 249.32,1617.39 247.34,1618.97 248.02,1621.41 245.90,1620.01 243.78,1621.41 244.46,1618.97 242.48,1617.39 245.01,1617.28" fill="#222"/>
<polygon points="312.60,1577.00 313.49,1579.38 316.02,1579.49 314.04,1581.07 314.72,1583.51 312.60,1582.11 310.48,1583.51 311.16,1581.07 309.18,1579.49 311.71,1579.38" fill="#222"/>
<polygon points="321.10,1577.00 321.99,1579.38 324.52,1579.49 322.54,1581.07 323.22,1583.51 321.10,1582.11 318.98,1583.51 319.66,1581.07 317.68,1579.49 320.21,1579.38" fill="#222"/>
<polygon points="329.60,1577.00 330.49,1579.38 333.02,1579.49 331.04,1581.07 331.72,1583.51 329.60,1582.11 327.48,1583.51 328.16,1581.07 326.18,1579.49 328.71,1579.38" fill="#222"/>
<polygon points="400.95,1688.10 401.84,1690.48 404.37,1690.59 402.39,1692.17 403.07,1694.61 400.95,1693.21 398.83,1694.61 399.51,1692.17 397.53,1690.59 400.06,1690.48" fill="#222"/>
<polygon points="409.45,1688.10 410.34,1690.48 412.87,1690.59 410.89,1692.17 411.57,1694.61 409.45,1693.21 407.33,1694.61 408.01,1692.17 406.03,1690.59 408.56,1690.48" fill="#222"/>
<polygon points="484.25,1751.80 485.14,1754.18 487.67,1754.29 485.69,1755.87 486.37,1758.31 484.25,1756.91 482.13,1758.31 482.81,1755.87 480.83,1754.29 483.36,1754.18" fill="#222"/>
<polygon points="492.75,1751.80 493.64,1754.18 496.17,1754.29 494.19,1755.87 494.87,1758.31 492.75,1756.91 490.63,1758.31 491.31,1755.87 489.33,1754.29 491.86,1754.18" fill="#222"/>
<line x1="655" y1="1547.7" x2="655" y2="1803.8999999999999" stroke="#050808" stroke-width="2.6"/>
<line x1="646.5" y1="1802.8" x2="1066.2" y2="1802.8" stroke="#050808" stroke-width="2.2"/>
<text transform="translate(643.30,1809.10) scale(0.965,1)" font-family='"Liberation Sans", sans-serif' font-size="21.7" font-weight="bold" fill="#050808" text-anchor="end" stroke="#fff" stroke-width="0.1">0.00</text>
<line x1="646.5" y1="1739.35" x2="655" y2="1739.35" stroke="#050808" stroke-width="2.4"/>
<text transform="translate(643.30,1745.65) scale(0.965,1)" font-family='"Liberation Sans", sans-serif' font-size="21.7" font-weight="bold" fill="#050808" text-anchor="end" stroke="#fff" stroke-width="0.1">0.02</text>
<line x1="646.5" y1="1675.90" x2="655" y2="1675.90" stroke="#050808" stroke-width="2.4"/>
<text transform="translate(643.30,1682.20) scale(0.965,1)" font-family='"Liberation Sans", sans-serif' font-size="21.7" font-weight="bold" fill="#050808" text-anchor="end" stroke="#fff" stroke-width="0.1">0.04</text>
<line x1="646.5" y1="1612.45" x2="655" y2="1612.45" stroke="#050808" stroke-width="2.4"/>
<text transform="translate(643.30,1618.75) scale(0.965,1)" font-family='"Liberation Sans", sans-serif' font-size="21.7" font-weight="bold" fill="#050808" text-anchor="end" stroke="#fff" stroke-width="0.1">0.06</text>
<line x1="646.5" y1="1549.00" x2="655" y2="1549.00" stroke="#050808" stroke-width="2.4"/>
<text transform="translate(643.30,1555.30) scale(0.965,1)" font-family='"Liberation Sans", sans-serif' font-size="21.7" font-weight="bold" fill="#050808" text-anchor="end" stroke="#fff" stroke-width="0.1">0.08</text>
<line x1="691.9" y1="1802.8" x2="691.9" y2="1810.3" stroke="#050808" stroke-width="2.2"/>
<text transform="translate(691.90,1830.00) scale(0.9,1)" font-family='"Liberation Sans", sans-serif' font-size="22.5" font-weight="bold" fill="#050808" text-anchor="middle" stroke="#fff" stroke-width="0.1">0</text>
<line x1="775.2" y1="1802.8" x2="775.2" y2="1810.3" stroke="#050808" stroke-width="2.2"/>
<text transform="translate(775.20,1830.00) scale(0.9,1)" font-family='"Liberation Sans", sans-serif' font-size="22.5" font-weight="bold" fill="#050808" text-anchor="middle" stroke="#fff" stroke-width="0.1">3</text>
<line x1="858.6" y1="1802.8" x2="858.6" y2="1810.3" stroke="#050808" stroke-width="2.2"/>
<text transform="translate(858.60,1830.00) scale(0.9,1)" font-family='"Liberation Sans", sans-serif' font-size="22.5" font-weight="bold" fill="#050808" text-anchor="middle" stroke="#fff" stroke-width="0.1">6</text>
<line x1="942.2" y1="1802.8" x2="942.2" y2="1810.3" stroke="#050808" stroke-width="2.2"/>
<text transform="translate(942.20,1830.00) scale(0.9,1)" font-family='"Liberation Sans", sans-serif' font-size="22.5" font-weight="bold" fill="#050808" text-anchor="middle" stroke="#fff" stroke-width="0.1">9</text>
<line x1="1026" y1="1802.8" x2="1026" y2="1810.3" stroke="#050808" stroke-width="2.2"/>
<text transform="translate(1026.00,1830.00) scale(0.9,1)" font-family='"Liberation Sans", sans-serif' font-size="22.5" font-weight="bold" fill="#050808" text-anchor="middle" stroke="#fff" stroke-width="0.1">12</text>
<path d="M675.6,1657.1 V1650 M670.4,1650 H680.9" stroke="#050808" stroke-width="2.5" fill="none"/>
<rect x="665.3" y="1657.1" width="20.7" height="146.2" fill="#050808"/>
<path d="M707.6,1657.1 V1650 M702.3,1650 H712.9" stroke="#ed1c24" stroke-width="2.5" fill="none"/>
<rect x="697.1" y="1657.1" width="21.0" height="146.2" fill="#ed1c24"/>
<path d="M759.8,1765.7 V1761.2 M754.5,1761.2 H765.1" stroke="#050808" stroke-width="2.5" fill="none"/>
<rect x="749.4499999999999" y="1765.7" width="20.7" height="37.6" fill="#050808"/>
<path d="M791.8,1746.8 V1739.7 M786.5,1739.7 H797.0" stroke="#ed1c24" stroke-width="2.5" fill="none"/>
<rect x="781.25" y="1746.8" width="21.0" height="56.5" fill="#ed1c24"/>
<path d="M843.4,1770.3 V1767.8 M838.1,1767.8 H848.7" stroke="#050808" stroke-width="2.5" fill="none"/>
<rect x="833.0999999999999" y="1770.3" width="20.7" height="33.0" fill="#050808"/>
<path d="M875.4,1772.9 V1770.8 M870.1,1770.8 H880.7" stroke="#ed1c24" stroke-width="2.5" fill="none"/>
<rect x="864.9000000000001" y="1772.9" width="21.0" height="30.4" fill="#ed1c24"/>
<path d="M927.1,1774.6 V1772.1 M921.8,1772.1 H932.4" stroke="#050808" stroke-width="2.5" fill="none"/>
<rect x="916.75" y="1774.6" width="20.7" height="28.7" fill="#050808"/>
<path d="M959.1,1778.6 V1776.6 M953.8,1776.6 H964.4" stroke="#ed1c24" stroke-width="2.5" fill="none"/>
<rect x="948.5500000000001" y="1778.6" width="21.0" height="24.7" fill="#ed1c24"/>
<path d="M1011.6,1783.4 V1781.2 M1006.3,1781.2 H1016.9" stroke="#050808" stroke-width="2.5" fill="none"/>
<rect x="1001.2" y="1783.4" width="20.7" height="19.9" fill="#050808"/>
<path d="M1043.5,1780.4 V1779.1 M1038.2,1779.1 H1048.8" stroke="#ed1c24" stroke-width="2.5" fill="none"/>
<rect x="1033.0" y="1780.4" width="21.0" height="22.9" fill="#ed1c24"/>
<text x="813.80" y="1559.00" font-family='"Liberation Sans", sans-serif' font-size="20.5" font-weight="bold" fill="#050808" text-anchor="start" font-style="italic" textLength="104.00" lengthAdjust="spacingAndGlyphs">AeCOMT1</text>
<g transform="translate(587.5,1772.5) rotate(-90)">
<text x="-0.80" y="0.00" font-family='"Liberation Sans", sans-serif' font-size="22.8" font-weight="bold" fill="#050808" text-anchor="start" textLength="77.00" lengthAdjust="spacingAndGlyphs" stroke="#050808" stroke-width="0.42">Relative</text>
<text x="87.40" y="0.00" font-family='"Liberation Sans", sans-serif' font-size="22.8" font-weight="bold" fill="#050808" text-anchor="start" textLength="95.00" lengthAdjust="spacingAndGlyphs" stroke="#050808" stroke-width="0.42">expressin</text>
</g>
<polygon points="791.60,1726.00 792.49,1728.38 795.02,1728.49 793.04,1730.07 793.72,1732.51 791.60,1731.11 789.48,1732.51 790.16,1730.07 788.18,1728.49 790.71,1728.38" fill="#222"/>
<line x1="101.6" y1="1864.25" x2="101.6" y2="2120.6" stroke="#050808" stroke-width="1.9"/>
<line x1="93.1" y1="2119.5" x2="513.8" y2="2119.5" stroke="#050808" stroke-width="2.2"/>
<text transform="translate(89.90,2125.80) scale(0.965,1)" font-family='"Liberation Sans", sans-serif' font-size="21.7" font-weight="bold" fill="#050808" text-anchor="end" stroke="#fff" stroke-width="0.1">0.00</text>
<line x1="93.1" y1="2055.93" x2="101.6" y2="2055.93" stroke="#050808" stroke-width="2.4"/>
<text transform="translate(89.90,2062.23) scale(0.965,1)" font-family='"Liberation Sans", sans-serif' font-size="21.7" font-weight="bold" fill="#050808" text-anchor="end" stroke="#fff" stroke-width="0.1">0.05</text>
<line x1="93.1" y1="1992.35" x2="101.6" y2="1992.35" stroke="#050808" stroke-width="2.4"/>
<text transform="translate(89.90,1998.65) scale(0.965,1)" font-family='"Liberation Sans", sans-serif' font-size="21.7" font-weight="bold" fill="#050808" text-anchor="end" stroke="#fff" stroke-width="0.1">0.10</text>
<line x1="93.1" y1="1928.78" x2="101.6" y2="1928.78" stroke="#050808" stroke-width="2.4"/>
<text transform="translate(89.90,1935.08) scale(0.965,1)" font-family='"Liberation Sans", sans-serif' font-size="21.7" font-weight="bold" fill="#050808" text-anchor="end" stroke="#fff" stroke-width="0.1">0.15</text>
<line x1="93.1" y1="1865.20" x2="101.6" y2="1865.20" stroke="#050808" stroke-width="2.4"/>
<text transform="translate(89.90,1871.50) scale(0.965,1)" font-family='"Liberation Sans", sans-serif' font-size="21.7" font-weight="bold" fill="#050808" text-anchor="end" stroke="#fff" stroke-width="0.1">0.20</text>
<line x1="138.4" y1="2119.5" x2="138.4" y2="2127.0" stroke="#050808" stroke-width="2.2"/>
<text transform="translate(138.40,2146.80) scale(0.9,1)" font-family='"Liberation Sans", sans-serif' font-size="22.5" font-weight="bold" fill="#050808" text-anchor="middle" stroke="#fff" stroke-width="0.1">0</text>
<line x1="221.8" y1="2119.5" x2="221.8" y2="2127.0" stroke="#050808" stroke-width="2.2"/>
<text transform="translate(221.80,2146.80) scale(0.9,1)" font-family='"Liberation Sans", sans-serif' font-size="22.5" font-weight="bold" fill="#050808" text-anchor="middle" stroke="#fff" stroke-width="0.1">3</text>
<line x1="306" y1="2119.5" x2="306" y2="2127.0" stroke="#050808" stroke-width="2.2"/>
<text transform="translate(306.00,2146.80) scale(0.9,1)" font-family='"Liberation Sans", sans-serif' font-size="22.5" font-weight="bold" fill="#050808" text-anchor="middle" stroke="#fff" stroke-width="0.1">6</text>
<line x1="390" y1="2119.5" x2="390" y2="2127.0" stroke="#050808" stroke-width="2.2"/>
<text transform="translate(390.00,2146.80) scale(0.9,1)" font-family='"Liberation Sans", sans-serif' font-size="22.5" font-weight="bold" fill="#050808" text-anchor="middle" stroke="#fff" stroke-width="0.1">9</text>
<line x1="472.9" y1="2119.5" x2="472.9" y2="2127.0" stroke="#050808" stroke-width="2.2"/>
<text transform="translate(472.90,2146.80) scale(0.9,1)" font-family='"Liberation Sans", sans-serif' font-size="22.5" font-weight="bold" fill="#050808" text-anchor="middle" stroke="#fff" stroke-width="0.1">12</text>
<path d="M123.6,2023.8 V2016.3 M118.3,2016.3 H128.9" stroke="#050808" stroke-width="2.5" fill="none"/>
<rect x="113.3" y="2023.8" width="20.6" height="96.2" fill="#050808"/>
<path d="M154.8,2023.8 V2016.3 M149.4,2016.3 H160.1" stroke="#ed1c24" stroke-width="2.5" fill="none"/>
<rect x="144.3" y="2023.8" width="20.9" height="96.2" fill="#ed1c24"/>
<path d="M207.7,2004.6 V1999.1 M202.4,1999.1 H213.0" stroke="#050808" stroke-width="2.5" fill="none"/>
<rect x="197.39999999999998" y="2004.6" width="20.6" height="115.4" fill="#050808"/>
<path d="M238.8,1928.4 V1914.5 M233.5,1914.5 H244.2" stroke="#ed1c24" stroke-width="2.5" fill="none"/>
<rect x="228.4" y="1928.4" width="20.9" height="191.6" fill="#ed1c24"/>
<path d="M291.0,2025.1 V2018 M285.7,2018 H296.3" stroke="#050808" stroke-width="2.5" fill="none"/>
<rect x="280.7" y="2025.1" width="20.6" height="94.9" fill="#050808"/>
<path d="M322.1,2006.7 V2004.6 M316.8,2004.6 H327.4" stroke="#ed1c24" stroke-width="2.5" fill="none"/>
<rect x="311.7" y="2006.7" width="20.9" height="113.3" fill="#ed1c24"/>
<path d="M374.4,2074.1 V2068.5 M369.1,2068.5 H379.7" stroke="#050808" stroke-width="2.5" fill="none"/>
<rect x="364.09999999999997" y="2074.1" width="20.6" height="45.9" fill="#050808"/>
<path d="M405.6,2048.3 V2047.6 M400.2,2047.6 H410.9" stroke="#ed1c24" stroke-width="2.5" fill="none"/>
<rect x="395.1" y="2048.3" width="20.9" height="71.7" fill="#ed1c24"/>
<path d="M459.0,2092 V2087.5 M453.7,2087.5 H464.3" stroke="#050808" stroke-width="2.5" fill="none"/>
<rect x="448.7" y="2092" width="20.6" height="28.0" fill="#050808"/>
<path d="M490.1,2086.2 V2082.4 M484.8,2082.4 H495.4" stroke="#ed1c24" stroke-width="2.5" fill="none"/>
<rect x="479.7" y="2086.2" width="20.9" height="33.8" fill="#ed1c24"/>
<text x="255.10" y="1874.80" font-family='"Liberation Sans", sans-serif' font-size="20.5" font-weight="bold" fill="#050808" text-anchor="start" font-style="italic" textLength="105.40" lengthAdjust="spacingAndGlyphs">AeCOMT2</text>
<g transform="translate(18.799999999999997,2090.5) rotate(-90)">
<text x="-0.80" y="0.00" font-family='"Liberation Sans", sans-serif' font-size="22.8" font-weight="bold" fill="#050808" text-anchor="start" textLength="77.00" lengthAdjust="spacingAndGlyphs" stroke="#050808" stroke-width="0.42">Relative</text>
<text x="87.40" y="0.00" font-family='"Liberation Sans", sans-serif' font-size="22.8" font-weight="bold" fill="#050808" text-anchor="start" textLength="95.00" lengthAdjust="spacingAndGlyphs" stroke="#050808" stroke-width="0.42">expressin</text>
</g>
<polygon points="230.20,1900.00 231.09,1902.38 233.62,1902.49 231.64,1904.07 232.32,1906.51 230.20,1905.11 228.08,1906.51 228.76,1904.07 226.78,1902.49 229.31,1902.38" fill="#222"/>
<polygon points="238.70,1900.00 239.59,1902.38 242.12,1902.49 240.14,1904.07 240.82,1906.51 238.70,1905.11 236.58,1906.51 237.26,1904.07 235.28,1902.49 237.81,1902.38" fill="#222"/>
<polygon points="247.20,1900.00 248.09,1902.38 250.62,1902.49 248.64,1904.07 249.32,1906.51 247.20,1905.11 245.08,1906.51 245.76,1904.07 243.78,1902.49 246.31,1902.38" fill="#222"/>
<polygon points="322.60,1991.70 323.49,1994.08 326.02,1994.19 324.04,1995.77 324.72,1998.21 322.60,1996.81 320.48,1998.21 321.16,1995.77 319.18,1994.19 321.71,1994.08" fill="#222"/>
<polygon points="397.90,2033.90 398.79,2036.28 401.32,2036.39 399.34,2037.97 400.02,2040.41 397.90,2039.01 395.78,2040.41 396.46,2037.97 394.48,2036.39 397.01,2036.28" fill="#222"/>
<polygon points="406.40,2033.90 407.29,2036.28 409.82,2036.39 407.84,2037.97 408.52,2040.41 406.40,2039.01 404.28,2040.41 404.96,2037.97 402.98,2036.39 405.51,2036.28" fill="#222"/>
<polygon points="414.90,2033.90 415.79,2036.28 418.32,2036.39 416.34,2037.97 417.02,2040.41 414.90,2039.01 412.78,2040.41 413.46,2037.97 411.48,2036.39 414.01,2036.28" fill="#222"/>
<polygon points="489.80,2068.20 490.69,2070.58 493.22,2070.69 491.24,2072.27 491.92,2074.71 489.80,2073.31 487.68,2074.71 488.36,2072.27 486.38,2070.69 488.91,2070.58" fill="#222"/>
<text x="202.30" y="2181.80" font-family='"Liberation Sans", sans-serif' font-size="20" font-weight="bold" fill="#050808" text-anchor="start" textLength="79.30" lengthAdjust="spacingAndGlyphs" stroke="#050808" stroke-width="0.3">Storage</text>
<text x="291.50" y="2181.80" font-family='"Liberation Sans", sans-serif' font-size="20" font-weight="bold" fill="#050808" text-anchor="start" textLength="43.80" lengthAdjust="spacingAndGlyphs" stroke="#050808" stroke-width="0.3">time</text>
<text x="343.40" y="2181.80" font-family='"Liberation Sans", sans-serif' font-size="20" font-weight="bold" fill="#050808" text-anchor="start" textLength="66.30" lengthAdjust="spacingAndGlyphs" stroke="#050808" stroke-width="0.3">(days)</text>
<line x1="655" y1="1864.7" x2="655" y2="2120.4" stroke="#050808" stroke-width="2.6"/>
<line x1="646.5" y1="2119.3" x2="1066.2" y2="2119.3" stroke="#050808" stroke-width="2.2"/>
<text transform="translate(643.30,2125.60) scale(0.965,1)" font-family='"Liberation Sans", sans-serif' font-size="21.7" font-weight="bold" fill="#050808" text-anchor="end" stroke="#fff" stroke-width="0.1">0.00</text>
<line x1="646.5" y1="2055.98" x2="655" y2="2055.98" stroke="#050808" stroke-width="2.4"/>
<text transform="translate(643.30,2062.28) scale(0.965,1)" font-family='"Liberation Sans", sans-serif' font-size="21.7" font-weight="bold" fill="#050808" text-anchor="end" stroke="#fff" stroke-width="0.1">0.02</text>
<line x1="646.5" y1="1992.65" x2="655" y2="1992.65" stroke="#050808" stroke-width="2.4"/>
<text transform="translate(643.30,1998.95) scale(0.965,1)" font-family='"Liberation Sans", sans-serif' font-size="21.7" font-weight="bold" fill="#050808" text-anchor="end" stroke="#fff" stroke-width="0.1">0.04</text>
<line x1="646.5" y1="1929.33" x2="655" y2="1929.33" stroke="#050808" stroke-width="2.4"/>
<text transform="translate(643.30,1935.62) scale(0.965,1)" font-family='"Liberation Sans", sans-serif' font-size="21.7" font-weight="bold" fill="#050808" text-anchor="end" stroke="#fff" stroke-width="0.1">0.06</text>
<line x1="646.5" y1="1866.00" x2="655" y2="1866.00" stroke="#050808" stroke-width="2.4"/>
<text transform="translate(643.30,1872.30) scale(0.965,1)" font-family='"Liberation Sans", sans-serif' font-size="21.7" font-weight="bold" fill="#050808" text-anchor="end" stroke="#fff" stroke-width="0.1">0.08</text>
<line x1="691.9" y1="2119.3" x2="691.9" y2="2126.8" stroke="#050808" stroke-width="2.2"/>
<text transform="translate(691.90,2146.50) scale(0.9,1)" font-family='"Liberation Sans", sans-serif' font-size="22.5" font-weight="bold" fill="#050808" text-anchor="middle" stroke="#fff" stroke-width="0.1">0</text>
<line x1="775.2" y1="2119.3" x2="775.2" y2="2126.8" stroke="#050808" stroke-width="2.2"/>
<text transform="translate(775.20,2146.50) scale(0.9,1)" font-family='"Liberation Sans", sans-serif' font-size="22.5" font-weight="bold" fill="#050808" text-anchor="middle" stroke="#fff" stroke-width="0.1">3</text>
<line x1="858.6" y1="2119.3" x2="858.6" y2="2126.8" stroke="#050808" stroke-width="2.2"/>
<text transform="translate(858.60,2146.50) scale(0.9,1)" font-family='"Liberation Sans", sans-serif' font-size="22.5" font-weight="bold" fill="#050808" text-anchor="middle" stroke="#fff" stroke-width="0.1">6</text>
<line x1="942.2" y1="2119.3" x2="942.2" y2="2126.8" stroke="#050808" stroke-width="2.2"/>
<text transform="translate(942.20,2146.50) scale(0.9,1)" font-family='"Liberation Sans", sans-serif' font-size="22.5" font-weight="bold" fill="#050808" text-anchor="middle" stroke="#fff" stroke-width="0.1">9</text>
<line x1="1026" y1="2119.3" x2="1026" y2="2126.8" stroke="#050808" stroke-width="2.2"/>
<text transform="translate(1026.00,2146.50) scale(0.9,1)" font-family='"Liberation Sans", sans-serif' font-size="22.5" font-weight="bold" fill="#050808" text-anchor="middle" stroke="#fff" stroke-width="0.1">12</text>
<path d="M675.6,2013 V1998.3 M670.4,1998.3 H680.9" stroke="#050808" stroke-width="2.5" fill="none"/>
<rect x="665.3" y="2013" width="20.7" height="106.8" fill="#050808"/>
<path d="M707.6,2013 V1998.3 M702.3,1998.3 H712.9" stroke="#ed1c24" stroke-width="2.5" fill="none"/>
<rect x="697.1" y="2013" width="21.0" height="106.8" fill="#ed1c24"/>
<path d="M759.3,2014.7 V2008.7 M754.0,2008.7 H764.6" stroke="#050808" stroke-width="2.5" fill="none"/>
<rect x="748.9499999999999" y="2014.7" width="20.7" height="105.1" fill="#050808"/>
<path d="M791.2,1911.9 V1890.5 M786.0,1890.5 H796.5" stroke="#ed1c24" stroke-width="2.5" fill="none"/>
<rect x="780.75" y="1911.9" width="21.0" height="207.9" fill="#ed1c24"/>
<path d="M843.4,2020.6 V2018.1 M838.1,2018.1 H848.7" stroke="#050808" stroke-width="2.5" fill="none"/>
<rect x="833.0999999999999" y="2020.6" width="20.7" height="99.2" fill="#050808"/>
<path d="M875.4,2023.7 V2014.9 M870.1,2014.9 H880.7" stroke="#ed1c24" stroke-width="2.5" fill="none"/>
<rect x="864.9000000000001" y="2023.7" width="21.0" height="96.1" fill="#ed1c24"/>
<path d="M927.1,2062.7 V2055.6 M921.8,2055.6 H932.4" stroke="#050808" stroke-width="2.5" fill="none"/>
<rect x="916.75" y="2062.7" width="20.7" height="57.1" fill="#050808"/>
<path d="M959.1,2033.7 V2026.2 M953.8,2026.2 H964.4" stroke="#ed1c24" stroke-width="2.5" fill="none"/>
<rect x="948.5500000000001" y="2033.7" width="21.0" height="86.1" fill="#ed1c24"/>
<path d="M1011.6,2069.7 V2066.9 M1006.3,2066.9 H1016.9" stroke="#050808" stroke-width="2.5" fill="none"/>
<rect x="1001.2" y="2069.7" width="20.7" height="50.1" fill="#050808"/>
<path d="M1043.5,2074 V2067.7 M1038.2,2067.7 H1048.8" stroke="#ed1c24" stroke-width="2.5" fill="none"/>
<rect x="1033.0" y="2074" width="21.0" height="45.8" fill="#ed1c24"/>
<text x="831.50" y="1873.90" font-family='"Liberation Sans", sans-serif' font-size="20.5" font-weight="bold" fill="#050808" text-anchor="start" font-style="italic" textLength="105.60" lengthAdjust="spacingAndGlyphs">AeCOMT3</text>
<g transform="translate(584.1999999999999,2093.8) rotate(-90)">
<text x="-0.80" y="0.00" font-family='"Liberation Sans", sans-serif' font-size="22.8" font-weight="bold" fill="#050808" text-anchor="start" textLength="77.00" lengthAdjust="spacingAndGlyphs" stroke="#050808" stroke-width="0.42">Relative</text>
<text x="87.40" y="0.00" font-family='"Liberation Sans", sans-serif' font-size="22.8" font-weight="bold" fill="#050808" text-anchor="start" textLength="95.00" lengthAdjust="spacingAndGlyphs" stroke="#050808" stroke-width="0.42">expressin</text>
</g>
<polygon points="783.40,1875.50 784.29,1877.88 786.82,1877.99 784.84,1879.57 785.52,1882.01 783.40,1880.61 781.28,1882.01 781.96,1879.57 779.98,1877.99 782.51,1877.88" fill="#222"/>
<polygon points="791.90,1875.50 792.79,1877.88 795.32,1877.99 793.34,1879.57 794.02,1882.01 791.90,1880.61 789.78,1882.01 790.46,1879.57 788.48,1877.99 791.01,1877.88" fill="#222"/>
<polygon points="800.40,1875.50 801.29,1877.88 803.82,1877.99 801.84,1879.57 802.52,1882.01 800.40,1880.61 798.28,1882.01 798.96,1879.57 796.98,1877.99 799.51,1877.88" fill="#222"/>
<polygon points="955.55,2012.50 956.44,2014.88 958.97,2014.99 956.99,2016.57 957.67,2019.01 955.55,2017.61 953.43,2019.01 954.11,2016.57 952.13,2014.99 954.66,2014.88" fill="#222"/>
<polygon points="964.05,2012.50 964.94,2014.88 967.47,2014.99 965.49,2016.57 966.17,2019.01 964.05,2017.61 961.93,2019.01 962.61,2016.57 960.63,2014.99 963.16,2014.88" fill="#222"/>
<text x="756.50" y="2176.80" font-family='"Liberation Sans", sans-serif' font-size="20" font-weight="bold" fill="#050808" text-anchor="start" textLength="79.30" lengthAdjust="spacingAndGlyphs" stroke="#050808" stroke-width="0.3">Storage</text>
<text x="845.70" y="2176.80" font-family='"Liberation Sans", sans-serif' font-size="20" font-weight="bold" fill="#050808" text-anchor="start" textLength="43.80" lengthAdjust="spacingAndGlyphs" stroke="#050808" stroke-width="0.3">time</text>
<text x="897.60" y="2176.80" font-family='"Liberation Sans", sans-serif' font-size="20" font-weight="bold" fill="#050808" text-anchor="start" textLength="66.30" lengthAdjust="spacingAndGlyphs" stroke="#050808" stroke-width="0.3">(days)</text>
</svg>
</body></html>
